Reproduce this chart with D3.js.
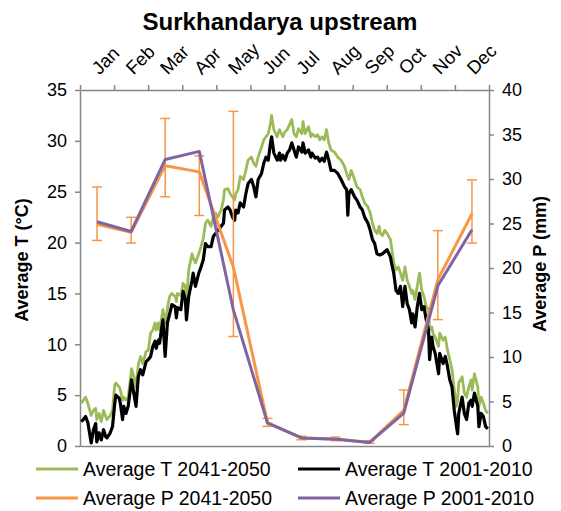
<!DOCTYPE html>
<html>
<head>
<meta charset="utf-8">
<script src="https://cdn.jsdelivr.net/npm/d3@7"></script>
<style>
  html, body { margin: 0; padding: 0; background: #fff; }
  svg { display: block; font-family: "Liberation Sans", Arial, sans-serif; }
</style>
</head>
<body>
<svg id="chart" width="561" height="511"></svg>
<script>
// Month categories for the precipitation series
const months = ["Jan","Feb","Mar","Apr","May","Jun","Jul","Aug","Sep","Oct","Nov","Dec"];

// Monthly precipitation (mm)
const p2041 = [24.9, 24.0, 31.5, 30.8, 20.1, 2.6, 0.9, 0.8, 0.4, 4.0, 18.7, 26.1];
const p2001 = [25.2, 24.1, 32.2, 33.1, 15.3, 2.6, 0.9, 0.75, 0.4, 3.7, 18.0, 24.3];
const p2041Hi = [29.1, 25.7, 36.8, 32.6, 37.6, 3.1, 1.1, 1.0, 0.6, 6.3, 24.2, 29.9];
const p2041Lo = [23.1, 22.8, 28.0, 25.9, 12.3, 2.2, 0.7, 0.6, 0.3, 2.4, 14.2, 22.8];

// Day of year for the temperature samples
const days = [
  1,3,5,7,10,12,14,15,17,19,21,23,24,27,29,31,32,35,36,38,39,41,43,46,48,50,52,54,56,59,61,63,65,67,68,70,71,73,74,76,78,80,82,85,86,87,90,
  92,94,95,97,100,101,103,106,108,110,112,114,117,119,121,123,126,128,129,132,134,136,138,139,141,143,146,148,150,153,155,157,159,162,164,166,168,170,171,173,176,178,
  179,181,183,185,187,189,191,193,195,198,199,201,204,206,207,210,212,214,216,218,220,222,224,227,230,233,236,238,239,240,242,245,247,250,252,254,257,259,261,263,265,267,
  268,270,272,274,277,278,280,282,284,286,288,290,292,294,296,297,299,301,303,305,307,309,311,312,314,315,317,320,321,324,326,328,330,332,334,336,337,338,341,343,345,347,349,350,352,355,356,358,360,362,364
];

// Daily average temperature (°C), 2041-2050
const t2041 = [
  4.2,4.5,4.8,4.2,3.0,3.5,3.7,2.6,3.2,2.4,3.5,2.9,2.6,3.0,3.5,6.0,6.2,5.8,5.5,4.5,4.8,4.5,4.8,7.6,6.8,5.8,8.0,8.8,8.1,9.3,9.4,11.1,11.4,12.1,11.4,12.1,11.4,12.7,13.4,12.1,13.5,14.7,15.0,14.7,14.2,15.0,14.8,
  16.0,15.7,14.2,17.3,18.9,18.5,18.0,18.9,19.6,20.4,21.9,22.2,21.6,22.5,22.9,22.5,23.2,24.2,25.2,25.3,24.8,24.5,24.2,24.8,25.2,26.5,26.2,27.1,28.1,28.4,27.8,27.5,28.4,29.4,30.1,30.4,30.7,31.7,32.5,31.1,30.4,31.1,
  30.9,30.4,30.9,31.1,31.6,32.1,30.7,30.4,31.2,30.7,31.9,30.7,31.4,30.4,30.7,30.4,30.6,30.1,30.4,30.1,31.1,29.8,29.1,28.9,28.4,28.1,27.5,26.8,26.5,26.2,27.1,26.2,25.5,25.2,24.5,23.9,23.5,22.9,21.9,21.2,20.9,21.6,
  20.9,20.7,21.2,20.9,20.3,19.6,18.0,17.3,17.6,17.0,16.3,17.6,16.3,15.7,15.0,15.3,14.4,15.7,17.0,15.3,14.7,13.7,13.4,11.4,11.7,11.1,10.7,9.8,11.1,10.4,10.7,9.4,8.5,7.5,5.5,3.9,4.5,6.2,6.8,5.2,4.8,5.8,6.5,5.5,7.1,5.8,3.9,4.8,4.2,3.5,3.2
];

// Daily average temperature (°C), 2001-2010
const t2001 = [
  2.4,2.6,2.9,2.3,0.3,1.6,2.2,0.4,1.3,0.6,1.6,0.9,0.8,1.3,1.9,4.2,5.0,4.7,4.2,2.6,3.9,3.2,3.9,6.5,5.2,3.9,6.8,7.5,7.0,8.3,8.5,8.8,9.8,10.3,9.6,10.4,10.1,11.7,12.4,8.8,12.1,13.0,13.9,13.7,12.6,13.6,13.4,
  15.2,14.4,12.4,14.7,16.3,17.0,15.7,17.0,17.6,18.3,19.9,19.6,19.6,20.6,20.9,21.2,21.6,21.9,23.2,23.5,23.2,22.5,22.2,23.2,22.9,23.9,23.5,24.8,25.8,26.2,25.5,24.5,26.2,26.8,27.8,28.4,28.1,29.8,30.4,28.8,28.1,28.8,
  28.1,28.6,28.1,28.8,29.1,29.8,29.1,28.4,29.4,28.9,29.8,28.8,29.1,28.4,28.8,28.3,28.4,28.0,28.3,28.0,28.9,28.1,27.1,27.1,26.8,26.2,25.5,25.2,22.7,24.8,25.2,24.5,24.2,23.5,23.2,22.5,21.9,21.2,20.3,19.9,18.9,18.8,
  18.8,18.9,19.1,19.3,18.6,18.0,17.0,15.3,15.0,15.7,13.7,15.7,14.0,13.4,12.1,13.0,11.7,13.7,15.0,13.4,13.7,12.4,11.4,8.5,10.7,9.8,9.1,7.1,9.1,8.1,8.8,7.8,6.5,5.8,3.5,1.9,1.2,3.2,4.8,3.2,2.6,4.2,4.5,3.9,5.2,3.9,1.9,3.2,2.9,1.9,1.7
];

// Axis tick values
const tTicks = [0, 5, 10, 15, 20, 25, 30, 35];
const pTicks = [0, 5, 10, 15, 20, 25, 30, 35, 40];

const legendItems = [
  { label: "Average T 2041-2050", color: "#9BBB59" },
  { label: "Average T 2001-2010", color: "#000000" },
  { label: "Average P 2041-2050", color: "#F79646" },
  { label: "Average P 2001-2010", color: "#8064A2" }
];

const svg = d3.select("#chart");
const plot = { left: 80, right: 489, top: 90, bottom: 446 };
const axisColor = "#868686";
const fontSize = 18;

const xDay = d3.scaleLinear().domain([0, 365]).range([plot.left, plot.right]);
const xMonth = d3.scaleBand().domain(months).range([plot.left, plot.right]);
const xMonthEdge = d3.scaleLinear().domain([0, 12]).range([plot.left, plot.right]);
const yT = d3.scaleLinear().domain([0, 35]).range([plot.bottom, plot.top]);
const yP = d3.scaleLinear().domain([0, 40]).range([plot.bottom, plot.top]);

function styleAxis(g) {
  g.select(".domain").attr("stroke", axisColor).attr("stroke-width", 1.5);
  g.selectAll(".tick line").attr("stroke", axisColor).attr("stroke-width", 1.5);
  g.selectAll(".tick text").attr("fill", "#000").attr("font-size", fontSize)
    .attr("font-family", "Liberation Sans, Arial, sans-serif");
}

// Bottom baseline
svg.append("g").attr("transform", `translate(0,${plot.bottom})`)
  .call(d3.axisBottom(xDay).tickValues([]).tickSizeOuter(0))
  .call(styleAxis);

// Top month axis: ticks on month boundaries
svg.append("g").attr("transform", `translate(0,${plot.top})`)
  .call(d3.axisTop(xMonthEdge).tickValues(d3.range(13)).tickFormat("").tickSize(5).tickSizeOuter(0))
  .call(styleAxis);

// Month labels, rotated
svg.append("g").selectAll("text").data(months).join("text")
  .attr("transform", d => `translate(${xMonth(d) + xMonth.bandwidth() / 2 - 1},${plot.top - 18}) rotate(-45)`)
  .attr("font-size", 18.5).attr("text-anchor", "start").attr("dominant-baseline", "middle")
  .text(d => d);

// Left temperature axis
svg.append("g").attr("transform", `translate(${plot.left},0)`)
  .call(d3.axisLeft(yT).tickValues(tTicks).tickSize(5).tickSizeOuter(0).tickPadding(8))
  .call(styleAxis);

// Right precipitation axis
svg.append("g").attr("transform", `translate(${plot.right},0)`)
  .call(d3.axisRight(yP).tickValues(pTicks).tickSize(5).tickSizeOuter(0).tickPadding(8))
  .call(styleAxis);

// Temperature lines
const tLine = vals => d3.line().x((d, i) => xDay(days[i])).y(d => yT(d))(vals);
svg.append("path").attr("d", tLine(t2041)).attr("fill", "none")
  .attr("stroke", "#9BBB59").attr("stroke-width", 2.8).attr("stroke-linejoin", "round");
svg.append("path").attr("d", tLine(t2001)).attr("fill", "none")
  .attr("stroke", "#000").attr("stroke-width", 3.2).attr("stroke-linejoin", "round");

// Precipitation lines
const cx = m => xMonth(m) + xMonth.bandwidth() / 2;
const pLine = vals => d3.line().x((d, i) => cx(months[i])).y(d => yP(d))(vals);
svg.append("path").attr("d", pLine(p2041)).attr("fill", "none")
  .attr("stroke", "#F79646").attr("stroke-width", 3).attr("stroke-linejoin", "round");

// Error bars on 2041-2050 precipitation
const eb = svg.append("g").attr("stroke", "#F79646").attr("stroke-width", 1.5);
months.forEach((m, i) => {
  const x = cx(m);
  eb.append("line").attr("x1", x).attr("x2", x).attr("y1", yP(p2041Hi[i])).attr("y2", yP(p2041Lo[i]));
  eb.append("line").attr("x1", x - 5).attr("x2", x + 5).attr("y1", yP(p2041Hi[i])).attr("y2", yP(p2041Hi[i]));
  eb.append("line").attr("x1", x - 5).attr("x2", x + 5).attr("y1", yP(p2041Lo[i])).attr("y2", yP(p2041Lo[i]));
});

svg.append("path").attr("d", pLine(p2001)).attr("fill", "none")
  .attr("stroke", "#8064A2").attr("stroke-width", 3).attr("stroke-linejoin", "round");

// Title
svg.append("text").attr("x", 280).attr("y", 30).attr("text-anchor", "middle")
  .attr("font-size", 24).attr("font-weight", "bold").text("Surkhandarya upstream");

// Axis titles
svg.append("text").attr("transform", `translate(28,260) rotate(-90)`)
  .attr("text-anchor", "middle").attr("font-size", 18).attr("font-weight", "bold")
  .text("Average T (°C)");
svg.append("text").attr("transform", `translate(546,264) rotate(-90)`)
  .attr("text-anchor", "middle").attr("font-size", 18).attr("font-weight", "bold")
  .text("Average P (mm)");

// Legend
const legend = svg.append("g");
legendItems.forEach((item, i) => {
  const col = i % 2, row = Math.floor(i / 2);
  const x0 = col === 0 ? 36 : 298;
  const y0 = 469 + row * 29;
  legend.append("line").attr("x1", x0).attr("x2", x0 + 42).attr("y1", y0).attr("y2", y0)
    .attr("stroke", item.color).attr("stroke-width", 3);
  legend.append("text").attr("x", x0 + 47).attr("y", y0).attr("dominant-baseline", "central")
    .attr("font-size", 19.5).text(item.label);
});
</script>
</body>
</html>
